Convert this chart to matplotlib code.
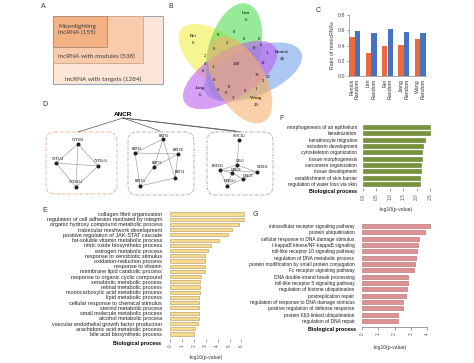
import numpy as np
import matplotlib.pyplot as plt
from matplotlib.patches import Rectangle, Ellipse, FancyBboxPatch

W, H = 474, 363

# ---------------- data ----------------
nested_labels = ["lncRNA with targets (1284)", "lncRNA with modules (538)", "Moonlighting\nlncRNA (155)"]

venn_sets = ["Rei", "Lim", "Renick", "Jiang", "Wang"]
venn_unique = [6, 6, 28, 6, 29]
venn_core = 100
venn_overlaps = [0, 0, 2, 0, 0, 0, 0, 2, 1, 0, 0, 0, 0, 0, 0, 3, 0, 1, 3, 36, 23, 12, 1, 0]

c_groups = ["Renick", "Lim", "Rei", "Jiang", "Wang"]
c_moon = [0.51, 0.30, 0.39, 0.41, 0.49]
c_random = [0.59, 0.57, 0.61, 0.58, 0.57]

modules = [
    {"nodes": ["CYP1B1", "CYP1A1", "CYP26A1", "CYP24A1"],
     "edges": [(0, 1), (0, 2), (0, 3), (1, 2), (1, 3), (2, 3)]},
    {"nodes": ["KRT81", "KRT16", "KRT6B", "KRT79", "KRT14", "KRT6A"],
     "edges": [(1, 0), (1, 2), (1, 5), (0, 4), (0, 3), (2, 3), (2, 4), (3, 5), (5, 4)]},
    {"nodes": ["SAPCD2", "UBA1", "RNF182", "UBE2S", "UBE2T", "NEDD4", "UBE2L3"],
     "edges": [(0, 1), (1, 2), (1, 3), (2, 3), (2, 5), (3, 4), (4, 5), (2, 6), (6, 4), (3, 6), (1, 5)]},
]

e_terms = ["collagen fibril organization",
           "regulation of cell adhesion mediated by integrin",
           "organic hydroxy compound metabolic process",
           "trabecular meshwork development",
           "positive regulation of JAK-STAT cascade",
           "fat-soluble vitamin metabolic process",
           "nitric oxide biosynthetic process",
           "estrogen metabolic process",
           "response to xenobiotic stimulus",
           "oxidation-reduction process",
           "response to vitamin",
           "membrane lipid catabolic process",
           "response to organic cyclic compound",
           "xenobiotic metabolic process",
           "retinal metabolic process",
           "monocarboxylic acid metabolic process",
           "lipid metabolic process",
           "cellular response to chemical stimulus",
           "steroid metabolic process",
           "small molecule metabolic process",
           "alcohol metabolic process",
           "vascular endothelial growth factor production",
           "arachidonic acid metabolic process",
           "bile acid biosynthetic process"]
e_vals = [6.2, 6.2, 5.8, 5.2, 4.9, 4.1, 3.45, 3.15, 2.9, 2.9, 2.9, 2.9,
          2.6, 2.55, 2.5, 2.5, 2.45, 2.4, 2.4, 2.4, 2.4, 2.35, 2.1, 2.05]

f_terms = ["morphogenesis of an epithelium",
           "keratinization",
           "keratinocyte migration",
           "ectoderm development",
           "cytoskeleton organization",
           "tissue morphogenesis",
           "sarcomere organization",
           "tissue development",
           "establishment of skin barrier",
           "regulation of water loss via skin"]
f_vals = [2.5, 2.5, 2.31, 2.25, 2.2, 2.2, 2.18, 2.18, 2.13, 2.13]

g_terms = ["intracellular receptor signaling pathway",
           "protein ubiquitination",
           "cellular response to DNA damage stimulus",
           "I-kappaB kinase/NF-kappaB signaling",
           "toll-like receptor 10 signaling pathway",
           "regulation of DNA metabolic process",
           "protein modification by small protein conjugation",
           "Fc receptor signaling pathway",
           "DNA double-strand break processing",
           "toll-like receptor 5 signaling pathway",
           "regulation of histone ubiquitination",
           "postreplication repair",
           "regulation of response to DNA damage stimulus",
           "positive regulation of defense response",
           "protein K63-linked ubiquitination",
           "regulation of DNA repair"]
g_vals = [4.15, 3.9, 3.5, 3.45, 3.4, 3.3, 3.25, 3.2, 2.85, 2.85,
          2.75, 2.7, 2.5, 2.5, 2.2, 2.2]

# ---------------- layout ----------------
plt.rcParams['font.family'] = ['Liberation Sans', 'DejaVu Sans']
fig = plt.figure(figsize=(W / 100, H / 100), dpi=100)
fig.patch.set_facecolor("white")

base = fig.add_axes([0, 0, 1, 1])
base.set_xlim(0, W)
base.set_ylim(H, 0)
base.axis("off")


def px_axes(x0, y0, x1, y1):
    return fig.add_axes([x0 / W, 1 - y1 / H, (x1 - x0) / W, (y1 - y0) / H])


def letter(x, y, s):
    base.text(x, y, s, fontsize=5, color="#333333", ha="center", va="center")


# ---- A: nested boxes ----
letter(43, 7, "A")
boxes = [(53, 16, 163, 84, "#fbe5d6", "#8497b0"),
         (53, 16, 143, 63, "#f8cbad", "#c9a892"),
         (53, 16, 107, 47, "#f4b183", "#a78a78")]
for x0, y0, x1, y1, fc, ec in boxes:
    base.add_patch(Rectangle((x0, y0), x1 - x0, y1 - y0, facecolor=fc, edgecolor=ec, lw=0.6))
a_pos = [(65, 79), (58, 56), (58, 29.5)]
for (tx, ty), s in zip(a_pos, nested_labels):
    base.text(tx, ty, s, fontsize=4.6, family="Lato", color="#3a3a3a", va="center", linespacing=1.2)

# ---- B: five-set Venn ----
letter(171, 6, "B")
ell = [((223, 62), 106, 50, 38, "#f3ef4a"),
       ((234, 52), 100, 52, -75, "#52dc52"),
       ((253, 72), 104, 48, -22, "#75a3e8"),
       ((230, 75), 106, 48, -31, "#bd60f0"),
       ((240, 80), 96, 50, 60, "#f7b173")]
for c, w, h, ang, col in ell:
    base.add_patch(Ellipse(c, w, h, angle=ang, facecolor=col, alpha=0.6, edgecolor="none"))
name_pos = [(193, 36), (246, 13), (282, 52), (200, 88), (256, 98)]
for (nx, ny), nm, v in zip(name_pos, venn_sets, venn_unique):
    base.text(nx, ny, nm, fontsize=3.5, family="Liberation Serif", ha="center", va="center")
    base.text(nx, ny + 7, str(v), fontsize=3.5, family="Liberation Serif", ha="center", va="center")
base.text(236, 64, str(venn_core), fontsize=3.5, family="Liberation Serif", ha="center", va="center")
ov_pos = [(218, 35), (234, 32), (227, 43), (244, 39), (259, 39), (254, 48), (214, 49),
          (205, 56), (213, 67), (205, 64), (203, 71), (214, 80), (218, 90), (229, 87),
          (226, 93), (233, 98), (245, 91), (256, 89), (263, 81), (257, 75), (268, 77),
          (263, 63), (267, 53), (261, 45)]
for (ox, oy), v in zip(ov_pos, venn_overlaps):
    base.text(ox, oy, str(v), fontsize=3.3, family="Liberation Serif", ha="center", va="center")

# ---- C: ratio bars ----
letter(318, 10, "C")
axc = px_axes(349, 15, 426, 76)
xg = np.arange(len(c_groups))
axc.bar(xg - 0.17, c_moon, 0.33, color="#ef6a3a")
axc.bar(xg + 0.17, c_random, 0.33, color="#4472c4")
axc.set_xlim(-0.34, 4.34)
axc.set_ylim(0, 0.8)
axc.set_yticks(np.arange(0, 0.81, 0.2))
axc.set_yticklabels([f"{v:.1f}" for v in np.arange(0, 0.81, 0.2)])
xt = np.ravel(np.column_stack([xg - 0.17, xg + 0.17]))
axc.set_xticks(xt)
axc.set_xticklabels(np.ravel([[g, "Random"] for g in c_groups]), rotation=90)
axc.tick_params(axis="x", length=0, pad=2, labelsize=3.8, colors="#333333")
axc.tick_params(axis="y", length=1.5, width=0.4, pad=1.5, labelsize=3.8, colors="#444444")
for s in ["top", "right"]:
    axc.spines[s].set_visible(False)
for s in ["left", "bottom"]:
    axc.spines[s].set_linewidth(0.5)
    axc.spines[s].set_color("#888888")
axc.set_ylabel("Ratio of mimicRNAs", fontsize=3.8, labelpad=2, color="#333333")

# ---- D: ANCR modules ----
letter(45, 105, "D")
base.text(123, 114, "ANCR", fontsize=4.6, fontweight="bold", ha="center", va="center")
mod_boxes = [(46, 132, 117, 194, "#e2a078"), (128, 132, 194, 195, "#999999"), (207, 132, 273, 195, "#999999")]
for x0, y0, x1, y1, ec in mod_boxes:
    base.add_patch(FancyBboxPatch((x0, y0), x1 - x0, y1 - y0,
                                  boxstyle="round,pad=0,rounding_size=9",
                                  facecolor="none", edgecolor=ec, lw=0.6, ls=(0, (3, 1.5, 1, 1.5))))
for tx, ty in [(78, 132), (160, 131), (240, 132), (236, 131)]:
    base.plot([123, tx], [118, ty], color="#555555", lw=0.5)
node_pos = [
    [(78, 144), (56, 163), (98, 166), (76, 187)],
    [(163, 139), (135, 153), (178, 154), (154, 167), (175, 178), (140, 186)],
    [(239, 140), (237, 165), (220, 170), (232, 173), (243, 179), (257, 172), (227, 186)],
]
label_off = [
    [(0, -4), (2, -4), (3, -5), (0, -5)],
    [(1, -3), (2, -4), (0, -4), (3, -4), (5, -6), (0, -5)],
    [(0, -4), (3, -4), (-2, -4), (4, -3), (5, -3), (6, -5), (3, -5)],
]
for mod, pos, off in zip(modules, node_pos, label_off):
    for i, j in mod["edges"]:
        base.plot([pos[i][0], pos[j][0]], [pos[i][1], pos[j][1]], color="#9a9a9a", lw=0.45, zorder=2)
    for (nx, ny), (dx, dy), nm in zip(pos, off, mod["nodes"]):
        base.plot(nx, ny, "o", ms=1.9, color="#222222", zorder=3)
        base.text(nx + dx, ny + dy, nm, fontsize=2.5, family="Liberation Serif", ha="center", va="center")


# ---- E/F/G: GO enrichment bars ----
def go_panel(rect, terms, vals, color, edge, xmax, ticks, tlabels, bar_h, first_y, last_y,
             pad, fs, spine=False):
    x0, y0, x1, y1 = rect
    ax = px_axes(x0, y0, x1, y1)
    n = len(terms)
    step = (last_y - first_y) / (n - 1)
    ax.barh(np.arange(n), vals, height=bar_h, color=color, edgecolor=edge, lw=0.4)
    ax.set_xlim(0, xmax)
    ax.set_ylim((n - 1) + (y1 - last_y) / step, -(first_y - y0) / step)
    ax.set_yticks(np.arange(n))
    ax.set_yticklabels(terms)
    ax.set_xticks(ticks)
    ax.set_xticklabels(tlabels, rotation=90)
    ax.tick_params(axis="y", length=0, pad=pad, labelsize=fs, colors="#222222")
    ax.tick_params(axis="x", length=2.2, width=0.4, pad=1.5, labelsize=3.4,
                   colors="#555555")
    for s in ["top", "right", "left", "bottom"]:
        ax.spines[s].set_visible(False)
    if spine:
        ax.spines["bottom"].set_visible(True)
        ax.spines["bottom"].set_linewidth(0.5)
        ax.spines["bottom"].set_color("#777777")
        ax.spines["bottom"].set_bounds(0, ticks[-1])
    ax.patch.set_alpha(0)
    return ax


letter(45, 210, "E")
go_panel((170, 211, 245, 339), e_terms, e_vals, "#f7dc90", "#b5935a", 6.3,
         list(range(7)), [str(v) for v in range(7)], 0.6, 214, 334, 5.6, 3.95)
base.text(161, 343, "Biological process", fontsize=3.9, fontweight="bold", ha="right", va="center")
base.text(206, 357, "-log10(p-value)", fontsize=3.6, ha="center", va="center", color="#333333")

letter(282, 119, "F")
go_panel((363, 124, 432, 188), f_terms, f_vals, "#77933c", "#5f7a2c", 2.575,
         [0, 0.5, 1, 1.5, 2, 2.5], ["0.0", "0.5", "1.0", "1.5", "2.0", "2.5"], 0.62, 127, 184, 4.3, 3.5)
base.text(357, 192, "Biological process", fontsize=3.9, fontweight="bold", ha="right", va="center")
base.text(396, 209, "-log10(p-value)", fontsize=3.6, ha="center", va="center", color="#333333")

letter(255, 214, "G")
go_panel((362, 223, 432, 327), g_terms, g_vals, "#de9294", "#b2666a", 4.3,
         [0, 1, 2, 3, 4], ["0", "1", "2", "3", "4"], 0.62, 226, 321, 5.4, 3.5, spine=True)
base.text(356, 330, "Biological process", fontsize=3.9, fontweight="bold", ha="right", va="center")
base.text(390, 347, "-log10(p-value)", fontsize=3.6, ha="center", va="center", color="#333333")

fig.savefig("out.png", dpi=100, facecolor="white")
